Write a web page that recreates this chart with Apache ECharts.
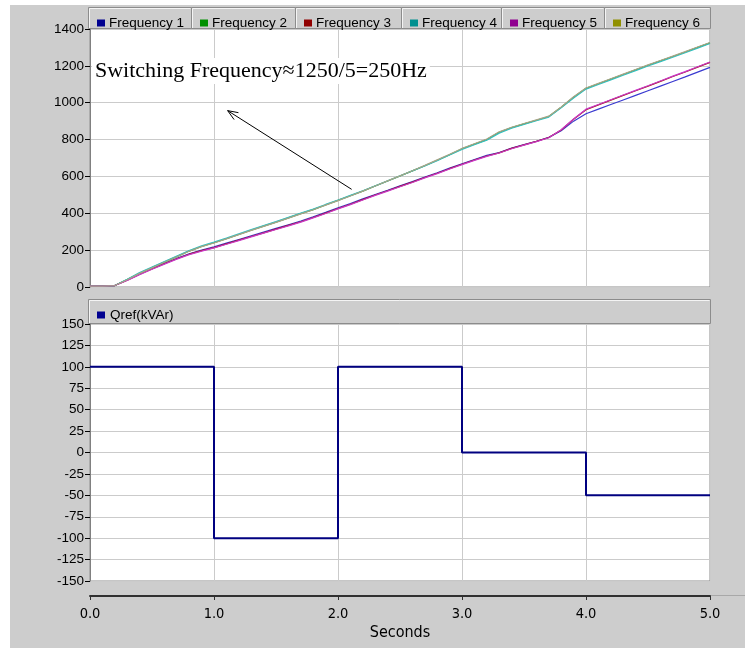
<!DOCTYPE html>
<html>
<head>
<meta charset="utf-8">
<script src="https://cdn.jsdelivr.net/npm/echarts@6/dist/echarts.min.js"></script>
<style>
html,body{margin:0;padding:0;background:#fff;}
#panel{position:absolute;left:10px;top:5px;width:735px;height:643px;background:#cdcdcd;}
#chart{position:absolute;left:0;top:0;width:745px;height:648px;}
</style>
</head>
<body>
<div id="panel"></div>
<div id="chart"></div>
<script>
// ---- data ----
const times = [0.0,0.1,0.2,0.3,0.4,0.5,0.6,0.7,0.8,0.9,
  1.0,1.1,1.2,1.3,1.4,1.5,1.6,1.7,1.8,1.9,
  2.0,2.1,2.2,2.3,2.4,2.5,2.6,2.7,2.8,2.9,
  3.0,3.1,3.2,3.3,3.4,3.5,3.6,3.7,3.8,3.9,
  4.0,4.1,4.2,4.3,4.4,4.5,4.6,4.7,4.8,4.9,5.0];
const freq1 = [5,5,8,38,70,100,128,155,180,200, 218,238,258,278,298,318,338,358,381,405, 430,453,478,502,525,549,572,597,620,645, 669,692,714,730,754,773,791,812,848,900, 940,965,990,1015,1040,1065,1090,1115,1140,1166, 1192];
const freq2 = [5,5,8,40,75,105,135,165,195,220, 240,262,285,308,330,352,375,398,420,445, 470,495,520,548,575,602,630,658,688,718, 750,775,800,840,865,885,905,925,975,1030, 1078,1103,1128,1153,1178,1203,1227,1251,1275,1300, 1325];
const freq3 = [5,5,8,37,69,98,126,153,178,197, 214,234,254,274,294,314,334,354,377,401, 426,449,474,499,522,546,569,594,617,642, 666,689,711,728,752,771,790,811,852,910, 962,988,1014,1040,1065,1090,1116,1142,1167,1193, 1219];
const freq4 = [5,5,8,42,78,108,138,168,198,224, 244,265,288,311,333,355,378,401,423,448, 472,497,522,549,576,603,630,657,686,716, 747,772,797,835,862,882,902,922,972,1026, 1074,1099,1124,1149,1174,1199,1223,1247,1271,1296, 1321];
const freq5 = [5,5,8,36,67,96,124,151,176,195, 212,232,252,272,292,312,332,352,375,399, 424,447,472,497,520,544,567,592,615,640, 664,687,709,727,750,770,789,810,853,912, 965,990,1016,1042,1067,1092,1118,1144,1169,1195, 1221];
const freq6 = [5,5,8,39,74,104,134,164,194,219, 239,261,284,307,329,351,374,397,419,444, 469,494,520,548,576,603,631,660,690,720, 752,777,803,842,867,887,907,927,977,1032, 1080,1105,1130,1155,1180,1205,1229,1253,1277,1302, 1327];
const freqNames = ['Frequency 1','Frequency 2','Frequency 3','Frequency 4','Frequency 5','Frequency 6'];
const qTimes = [0,1,2,3,4,5];
const qValues = [100,-100,100,0,-50,-50];
const qName = 'Qref(kVAr)';
const annotationText = 'Switching Frequency\u22481250/5=250Hz';
const arrowFrom = [2.11, 530];
const arrowTo = [1.11, 957];

// ---- styles ----
const lineColors = ['#3a3ad0','#109010','#a01010','#30c0c0','#c838c8','#a8a488'];
const legendColors = ['#000090','#009000','#900000','#009090','#900090','#909000'];
const tabEdges = [88,191,295,401,501,604,710];
const font = 'Liberation Sans, Arial, sans-serif';

const seriesData = [freq1,freq2,freq3,freq4,freq5,freq6];
const series = seriesData.map((vals,i)=>({
  name: freqNames[i], type:'line', xAxisIndex:0, yAxisIndex:0,
  data: times.map((t,j)=>[t, vals[j]]),
  showSymbol:false, symbol:'none',
  lineStyle:{color:lineColors[i], width:1.2},
  itemStyle:{color:legendColors[i]},
  animation:false, z: 3
}));
series.push({
  name: qName, type:'line', xAxisIndex:1, yAxisIndex:1,
  data: qTimes.map((t,j)=>[t,qValues[j]]),
  step:'end', showSymbol:false, symbol:'none',
  lineStyle:{color:'#000080', width:2},
  itemStyle:{color:'#000090'},
  animation:false
});

const legends = freqNames.map((n,i)=>({
  data:[{name:n, itemStyle:{color:legendColors[i]}}],
  left: tabEdges[i]+4, top: 11, icon:'rect', itemWidth:8, itemHeight:7, itemGap:4,
  selectedMode:false,
  textStyle:{fontFamily:font, fontSize:13.5, color:'#000', padding:[0,0,0,-1]}
}));
legends.push({
  data:[{name:qName, itemStyle:{color:'#000090'}}],
  left: 92, top: 303, icon:'rect', itemWidth:8, itemHeight:7, itemGap:4,
  selectedMode:false,
  textStyle:{fontFamily:font, fontSize:13.5, color:'#000'}
});

const graphics = [];
for (let i=0;i<6;i++){
  graphics.push({type:'rect', shape:{x:tabEdges[i]+0.5, y:7.5, width:tabEdges[i+1]-tabEdges[i], height:21},
    style:{fill:'#cdcdcd', stroke:'#8c8c8c', lineWidth:1}, z:-5, silent:true});
  graphics.push({type:'polyline', shape:{points:[[tabEdges[i]+1.5,28],[tabEdges[i]+1.5,8.5],[tabEdges[i+1]-0.5,8.5]]},
    style:{stroke:'#f4f4f4', lineWidth:1, fill:null}, z:-4, silent:true});
}
graphics.push({type:'rect', shape:{x:88.5, y:299.5, width:622, height:24},
  style:{fill:'#cdcdcd', stroke:'#8c8c8c', lineWidth:1}, z:-5, silent:true});
graphics.push({type:'polyline', shape:{points:[[89.5,323],[89.5,300.5],[709.5,300.5]]},
  style:{stroke:'#f4f4f4', lineWidth:1, fill:null}, z:-4, silent:true});
graphics.push({type:'line', shape:{x1:90, y1:595.5, x2:745, y2:595.5},
  style:{stroke:'#a8a8a8', lineWidth:1}, z:-4, silent:true});

const axisLabelStyle = {fontFamily:font, fontSize:13.5, color:'#000', formatter:(v)=>String(v)};
const option = {
  animation:false,
  backgroundColor:'transparent',
  legend: legends,
  grid:[
    {left:90, right:35, top:29, height:258, show:true, backgroundColor:'#fff', borderColor:'#8c8c8c', borderWidth:1},
    {left:90, right:35, top:324, height:257, show:true, backgroundColor:'#fff', borderColor:'#8c8c8c', borderWidth:1}
  ],
  xAxis:[
    {gridIndex:0, type:'value', min:0, max:5, interval:1,
     axisLine:{show:false}, axisTick:{show:false}, axisLabel:{show:false},
     splitLine:{show:true, lineStyle:{color:'#cbcbcb', width:1}}},
    {gridIndex:1, type:'value', min:0, max:5, interval:1, offset:15,
     axisLine:{show:true, onZero:false, lineStyle:{color:'#303030', width:2}},
     axisTick:{show:true, inside:false, length:4, lineStyle:{color:'#303030'}},
     axisLabel:{show:true, margin:11, fontFamily:'DejaVu Sans Condensed, Liberation Sans, Arial', fontSize:14.5, color:'#000',
       formatter:(v)=>v.toFixed(1)},
     splitLine:{show:true, lineStyle:{color:'#cbcbcb', width:1}},
     name:'Seconds', nameLocation:'middle', nameGap:29,
     nameTextStyle:{fontFamily:'DejaVu Sans Condensed, Liberation Sans, Arial', fontSize:16, color:'#000'}}
  ],
  yAxis:[
    {gridIndex:0, type:'value', min:0, max:1400, interval:200,
     axisLine:{show:true, lineStyle:{color:'#808080'}},
     axisTick:{show:true, length:5, lineStyle:{color:'#000'}},
     axisLabel:Object.assign({margin:6}, axisLabelStyle),
     splitLine:{show:true, lineStyle:{color:'#cbcbcb', width:1}}},
    {gridIndex:1, type:'value', min:-150, max:150, interval:25,
     axisLine:{show:true, lineStyle:{color:'#808080'}},
     axisTick:{show:true, length:5, lineStyle:{color:'#000'}},
     axisLabel:Object.assign({margin:6}, axisLabelStyle),
     splitLine:{show:true, lineStyle:{color:'#cbcbcb', width:1}}}
  ],
  graphic: graphics,
  series: series
};

const chart = echarts.init(document.getElementById('chart'), null, {renderer:'canvas'});
chart.setOption(option);

// annotation + arrow (computed through the chart's own scale)
const p0 = chart.convertToPixel({gridIndex:0}, arrowFrom);
const p1 = chart.convertToPixel({gridIndex:0}, arrowTo);
const ang = Math.atan2(p0[1]-p1[1], p0[0]-p1[0]);
const hl = 11, ha = 0.38;
const h1 = [p1[0]+hl*Math.cos(ang+ha), p1[1]+hl*Math.sin(ang+ha)];
const h2 = [p1[0]+hl*Math.cos(ang-ha), p1[1]+hl*Math.sin(ang-ha)];
const extra = graphics.concat([
  {type:'line', shape:{x1:p0[0], y1:p0[1], x2:p1[0], y2:p1[1]}, style:{stroke:'#000', lineWidth:1}, z:100, silent:true},
  {type:'polyline', shape:{points:[h1,p1,h2]}, style:{stroke:'#000', lineWidth:1, fill:null}, z:100, silent:true},
  {type:'text', left:92, top:58, z:100, silent:true,
   style:{text:annotationText, font:'22px "Liberation Serif", "Times New Roman", serif', fill:'#000',
     backgroundColor:'#fff', padding:[2,3,2,3]}}
]);
chart.setOption({graphic: extra}, {replaceMerge:['graphic']});
</script>
</body>
</html>
